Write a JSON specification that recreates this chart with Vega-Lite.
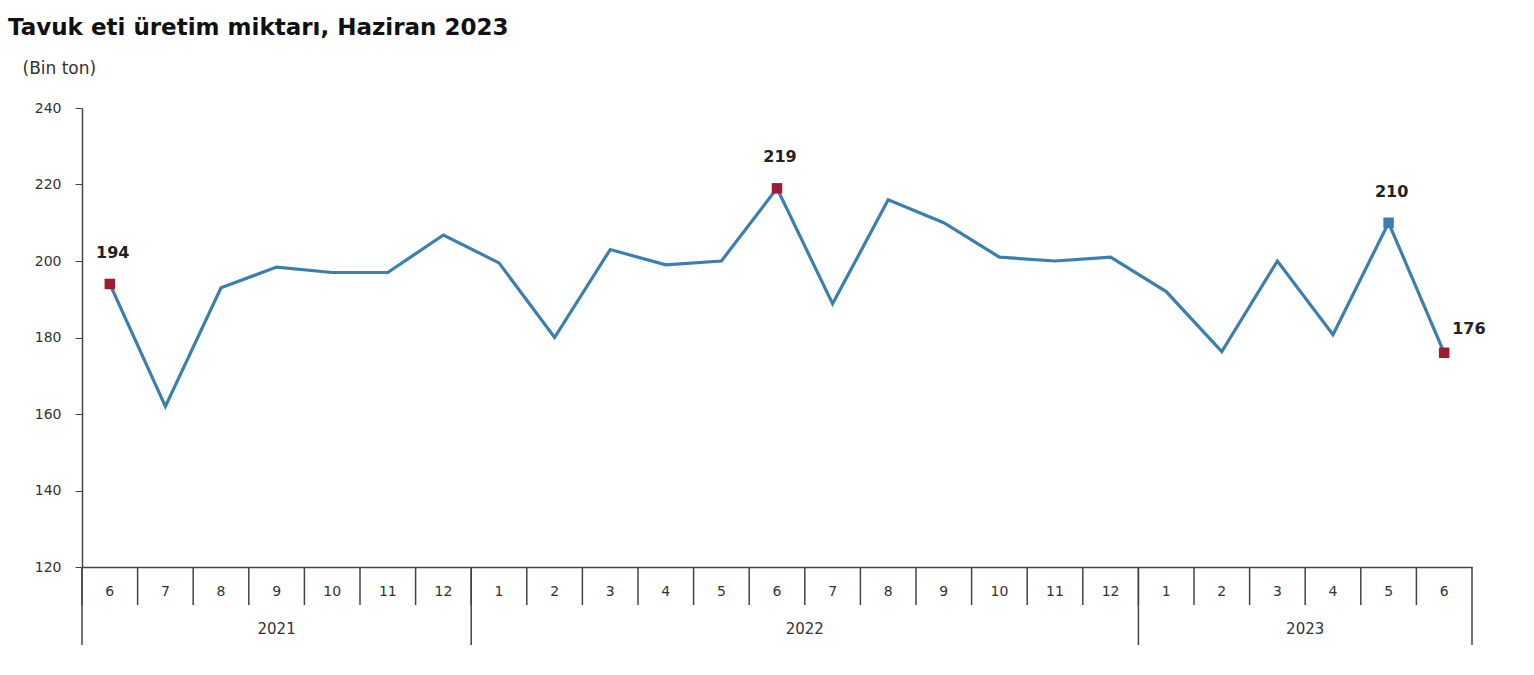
{
  "$schema": "https://vega.github.io/schema/vega-lite/v6.json",
  "autosize": {"type": "none"},
  "width": 1390,
  "height": 459,
  "padding": {"left": 82, "top": 108, "right": 62, "bottom": 108},
  "background": "white",
  "config": {"font": "DejaVu Sans", "view": {"stroke": null}},
  "title": {
    "text": "Tavuk eti üretim miktarı, Haziran 2023",
    "anchor": "start",
    "frame": "group",
    "dx": -74,
    "offset": 19,
    "fontSize": 23,
    "fontWeight": "bold",
    "color": "#111111"
  },
  "datasets": {
    "uretim": [
      {"yil": 2021, "ay": 6, "key": "2021-6", "deger": 194, "vurgu": "ilk"},
      {"yil": 2021, "ay": 7, "key": "2021-7", "deger": 162},
      {"yil": 2021, "ay": 8, "key": "2021-8", "deger": 193},
      {"yil": 2021, "ay": 9, "key": "2021-9", "deger": 198.4},
      {"yil": 2021, "ay": 10, "key": "2021-10", "deger": 197},
      {"yil": 2021, "ay": 11, "key": "2021-11", "deger": 197},
      {"yil": 2021, "ay": 12, "key": "2021-12", "deger": 206.8},
      {"yil": 2022, "ay": 1, "key": "2022-1", "deger": 199.5},
      {"yil": 2022, "ay": 2, "key": "2022-2", "deger": 180},
      {"yil": 2022, "ay": 3, "key": "2022-3", "deger": 203},
      {"yil": 2022, "ay": 4, "key": "2022-4", "deger": 199},
      {"yil": 2022, "ay": 5, "key": "2022-5", "deger": 200},
      {"yil": 2022, "ay": 6, "key": "2022-6", "deger": 219, "vurgu": "en yüksek"},
      {"yil": 2022, "ay": 7, "key": "2022-7", "deger": 188.8},
      {"yil": 2022, "ay": 8, "key": "2022-8", "deger": 216},
      {"yil": 2022, "ay": 9, "key": "2022-9", "deger": 210},
      {"yil": 2022, "ay": 10, "key": "2022-10", "deger": 201},
      {"yil": 2022, "ay": 11, "key": "2022-11", "deger": 200},
      {"yil": 2022, "ay": 12, "key": "2022-12", "deger": 201},
      {"yil": 2023, "ay": 1, "key": "2023-1", "deger": 192},
      {"yil": 2023, "ay": 2, "key": "2023-2", "deger": 176.3},
      {"yil": 2023, "ay": 3, "key": "2023-3", "deger": 200},
      {"yil": 2023, "ay": 4, "key": "2023-4", "deger": 180.7},
      {"yil": 2023, "ay": 5, "key": "2023-5", "deger": 210, "vurgu": "önceki ay"},
      {"yil": 2023, "ay": 6, "key": "2023-6", "deger": 176, "vurgu": "son"}
    ],
    "yillar_orta": [
      {"yil": "2021", "key": "2021-9"}
    ],
    "yillar_kenar": [
      {"yil": "2022", "key": "2022-6"},
      {"yil": "2023", "key": "2023-3"}
    ]
  },
  "data": {"name": "uretim"},
  "encoding": {
    "x": {
      "field": "key",
      "type": "ordinal",
      "sort": null,
      "scale": {"type": "band", "paddingInner": 0, "paddingOuter": 0},
      "axis": {
        "title": null,
        "labelAngle": 0,
        "labelExpr": "split(datum.value, '-')[1]",
        "ticks": false,
        "labelPadding": 24,
        "labelBaseline": "middle",
        "labelFontSize": 14,
        "labelColor": "#333333",
        "domainColor": "#444444",
        "domainWidth": 1.5
      }
    }
  },
  "layer": [
    {
      "mark": {"type": "rule", "color": "#444444", "strokeWidth": 1.5, "y2Offset": 38},
      "encoding": {
        "x": {"field": "key", "type": "ordinal", "sort": null, "bandPosition": 0},
        "y": {"datum": 120},
        "y2": {"datum": 120}
      }
    },
    {
      "transform": [{"filter": "datum.ay == 1 || (datum.yil == 2021 && datum.ay == 6)"}],
      "mark": {"type": "rule", "color": "#444444", "strokeWidth": 1.5, "y2Offset": 78},
      "encoding": {
        "x": {"field": "key", "type": "ordinal", "sort": null, "bandPosition": 0},
        "y": {"datum": 120},
        "y2": {"datum": 120}
      }
    },
    {
      "transform": [{"filter": "datum.key == '2023-6'"}],
      "mark": {"type": "rule", "color": "#444444", "strokeWidth": 1.5, "y2Offset": 78},
      "encoding": {
        "x": {"field": "key", "type": "ordinal", "sort": null, "bandPosition": 1},
        "y": {"datum": 120},
        "y2": {"datum": 120}
      }
    },
    {
      "data": {"name": "yillar_orta"},
      "mark": {"type": "text", "dy": 62, "fontSize": 15, "color": "#333333", "baseline": "middle"},
      "encoding": {
        "x": {"field": "key", "type": "ordinal", "sort": null, "bandPosition": 0.5},
        "y": {"datum": 120},
        "text": {"field": "yil"}
      }
    },
    {
      "data": {"name": "yillar_kenar"},
      "mark": {"type": "text", "dy": 62, "fontSize": 15, "color": "#333333", "baseline": "middle"},
      "encoding": {
        "x": {"field": "key", "type": "ordinal", "sort": null, "bandPosition": 1},
        "y": {"datum": 120},
        "text": {"field": "yil"}
      }
    },
    {
      "mark": {"type": "line", "color": "#3b7fae", "strokeWidth": 3.2},
      "encoding": {
        "y": {
          "field": "deger",
          "type": "quantitative",
          "title": "(Bin ton)",
          "scale": {"domain": [120, 240], "nice": false, "zero": false},
          "axis": {
            "values": [120, 140, 160, 180, 200, 220, 240],
            "grid": false,
            "tickSize": 7,
            "labelPadding": 14,
            "labelFontSize": 14,
            "labelColor": "#333333",
            "domainColor": "#444444",
            "domainWidth": 1.5,
            "tickColor": "#444444",
            "titleAngle": 0,
            "titleX": -60,
            "titleY": -40,
            "titleAlign": "left",
            "titleBaseline": "middle",
            "titleFontSize": 17,
            "titleFontWeight": "normal",
            "titleColor": "#333333"
          }
        }
      }
    },
    {
      "transform": [{"filter": "isValid(datum.vurgu)"}],
      "mark": {"type": "square", "size": 110, "opacity": 1},
      "encoding": {
        "y": {"field": "deger", "type": "quantitative"},
        "color": {
          "field": "vurgu",
          "type": "nominal",
          "scale": {"domain": ["ilk", "en yüksek", "önceki ay", "son"], "range": ["#9e1c32", "#9e1c32", "#3b7fae", "#9e1c32"]},
          "legend": null
        }
      }
    },
    {
      "transform": [{"filter": "isValid(datum.vurgu) && datum.vurgu != 'son'"}],
      "mark": {"type": "text", "dy": -31, "dx": 3, "fontSize": 16, "fontWeight": "bold", "color": "#222222"},
      "encoding": {
        "y": {"field": "deger", "type": "quantitative"},
        "text": {"field": "deger", "type": "quantitative"}
      }
    },
    {
      "transform": [{"filter": "datum.vurgu == 'son'"}],
      "mark": {"type": "text", "dy": -24, "dx": 8, "align": "left", "fontSize": 16, "fontWeight": "bold", "color": "#222222"},
      "encoding": {
        "y": {"field": "deger", "type": "quantitative"},
        "text": {"field": "deger", "type": "quantitative"}
      }
    }
  ]
}
